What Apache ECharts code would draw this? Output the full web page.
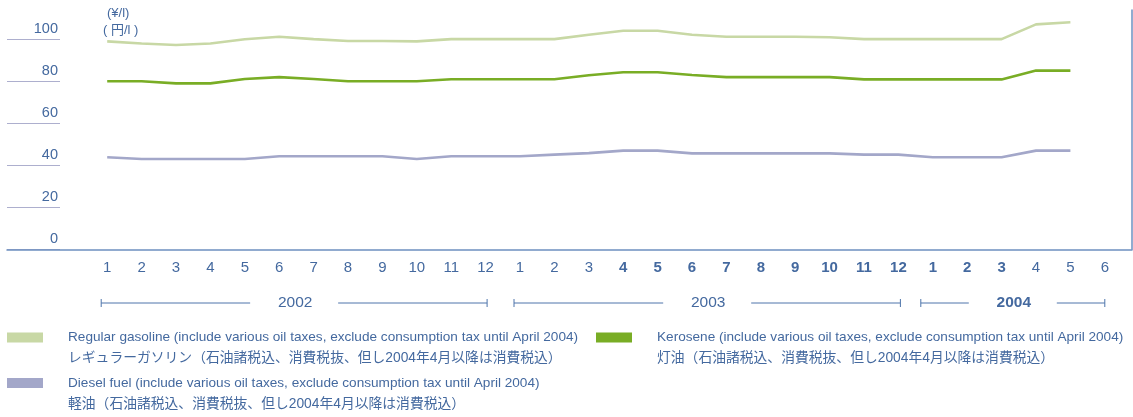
<!DOCTYPE html>
<html><head><meta charset="utf-8">
<script src="https://cdn.jsdelivr.net/npm/echarts@6/dist/echarts.min.js"></script>
<style>html,body{margin:0;padding:0;background:#fff}#c{width:1133px;height:417px}</style>
</head><body><div id="c"></div>
<script>
// ---- data ----
const months = ['1','2','3','4','5','6','7','8','9','10','11','12',
                '1','2','3','4','5','6','7','8','9','10','11','12',
                '1','2','3','4','5','6'];
const boldMonth = [0,0,0,0,0,0,0,0,0,0,0,0,
                   0,0,0,1,1,1,1,1,1,1,1,1,
                   1,1,1,0,0,0];
const years = ['2002','2003','2004'];
const yearBold = [false,false,true];
const yearFirst = [0,12,24];
const yearLast = [11,23,29];
const yTicks = [0,20,40,60,80,100];
const gasoline = [99,98,97.3,98,100,101.2,100.1,99.2,99.2,99,100.1,100.1,100.1,100.1,102.2,104.1,104.1,102.2,101.2,101.2,101.2,101,100.1,100.1,100.1,100.1,100.1,107.1,108.1];
const kerosene = [80,80,79,79,81.1,82,81.1,80,80,80,81,81,81,81,82.9,84.3,84.3,83,82,82,82,82,80.9,80.9,80.9,80.9,80.9,85.1,85.1];
const diesel = [43.8,43,43,43,43,44.3,44.3,44.3,44.3,43,44.3,44.3,44.3,45.1,45.8,47,47,45.7,45.7,45.7,45.7,45.7,45.1,45.1,43.8,43.8,43.8,47,47];
const seriesNames = ['Regular gasoline','Kerosene','Diesel fuel'];
const legendEn = {
  'Regular gasoline':'Regular gasoline (include various oil taxes, exclude consumption tax until April 2004)',
  'Kerosene':'Kerosene (include various oil taxes, exclude consumption tax until April 2004)',
  'Diesel fuel':'Diesel fuel (include various oil taxes, exclude consumption tax until April 2004)'
};
const legendJa = {
  'Regular gasoline':'レギュラーガソリン（石油諸税込、消費税抜、但し2004年4月以降は消費税込）',
  'Kerosene':'灯油（石油諸税込、消費税抜、但し2004年4月以降は消費税込）',
  'Diesel fuel':'軽油（石油諸税込、消費税抜、但し2004年4月以降は消費税込）'
};
const unitLines = ['(¥/l)','( 円/l )'];

// ---- styles ----
const FONT = "'Liberation Sans','Noto Sans CJK JP',sans-serif";
const TXT = '#44699f';
const colors = {'Regular gasoline':'#c8d8a5','Kerosene':'#79ad25','Diesel fuel':'#a3a7c9'};
const seriesData = {'Regular gasoline':gasoline,'Kerosene':kerosene,'Diesel fuel':diesel};

const chart = echarts.init(document.getElementById('c'), null, {renderer:'canvas'});
const option = {
  animation:false,
  backgroundColor:'#fff',
  textStyle:{fontFamily:FONT},
  grid:[
    {left:90, width:1032, top:18.3, height:231},
    {left:7, width:53, top:39.3, height:210},
    {left:7, right:1, top:10, height:239.3}
  ],
  xAxis:[
    {gridIndex:0, type:'category', data:months, boundaryGap:true,
     axisLine:{show:false}, axisTick:{show:false},
     axisLabel:{interval:0, margin:11, fontFamily:FONT,
       formatter:(v,i)=> boldMonth[i] ? '{b|'+v+'}' : '{n|'+v+'}',
       rich:{b:{fontSize:15,fontWeight:'bold',color:TXT,fontFamily:FONT},
             n:{fontSize:15,color:TXT,fontFamily:FONT}}}},
    {gridIndex:1, type:'value', show:false},
    {gridIndex:2, type:'value', position:'bottom', min:0, max:1,
     axisLine:{show:true, onZero:false, lineStyle:{color:'#6d90c0', width:1.5}},
     axisTick:{show:false}, axisLabel:{show:false}, splitLine:{show:false}}
  ],
  yAxis:[
    {gridIndex:0, type:'value', min:0, max:110, show:false},
    {gridIndex:1, type:'value', min:0, max:100, interval:20, position:'right',
     axisLine:{show:false}, axisTick:{show:false},
     axisLabel:{inside:true, margin:2, verticalAlign:'bottom', padding:[0,0,3,0],
       fontSize:14.5, color:TXT, fontFamily:FONT,
       formatter:v=> yTicks.includes(v) ? String(v) : ''},
     splitLine:{show:true, lineStyle:{color:'#adafce', width:1}}},
    {gridIndex:2, type:'value', position:'right', min:0, max:1,
     axisLine:{show:true, onZero:false, lineStyle:{color:'#6d90c0', width:1.5}},
     axisTick:{show:false}, axisLabel:{show:false}, splitLine:{show:false}}
  ],
  series: seriesNames.map(n=>({
    name:n, type:'line', xAxisIndex:0, yAxisIndex:0,
    data:seriesData[n], symbol:'none', smooth:false,
    lineStyle:{color:colors[n], width:2.6}, itemStyle:{color:colors[n]}
  }))
};
chart.setOption(option);

// ---- graphics derived from the axis ----
const px = k => chart.convertToPixel({xAxisIndex:0, yAxisIndex:0},[k,0])[0];
const g = [];
const by = 303, capH = 4, gap = 44;
const startOff = [-6,-6,-12], endOff = [1.5,2,0];
years.forEach((y,i)=>{
  const x1 = px(yearFirst[i]) + startOff[i];
  const x2 = px(yearLast[i]) + endOff[i];
  const cx = (x1+x2)/2;
  const ls = {stroke:'#4e75ab', lineWidth:1};
  g.push({type:'line', shape:{x1:x1,y1:by,x2:cx-gap,y2:by}, style:ls, silent:true});
  g.push({type:'line', shape:{x1:cx+gap,y1:by,x2:x2,y2:by}, style:ls, silent:true});
  g.push({type:'line', shape:{x1:x1,y1:by-capH,x2:x1,y2:by+capH}, style:ls, silent:true});
  g.push({type:'line', shape:{x1:x2,y1:by-capH,x2:x2,y2:by+capH}, style:ls, silent:true});
  g.push({type:'text', x:cx+1, y:by, style:{text:y, textAlign:'center', textVerticalAlign:'middle',
    font:(yearBold[i]?'bold ':'')+'15.5px '+FONT, fill:TXT}, silent:true});
});
// unit labels
g.push({type:'text', x:107, y:13.5, style:{text:unitLines[0], textVerticalAlign:'middle', font:'13px '+FONT, fill:TXT}});
g.push({type:'text', x:103, y:30.5, style:{text:unitLines[1], textVerticalAlign:'middle', font:'13px '+FONT, fill:TXT}});
// legend
const legPos = {'Regular gasoline':[7,337.5],'Kerosene':[596,337.5],'Diesel fuel':[7,383]};
seriesNames.forEach(n=>{
  const [lx,ly] = legPos[n];
  g.push({type:'rect', shape:{x:lx,y:ly-5,width:36,height:10}, style:{fill:colors[n]}});
  g.push({type:'text', x:lx+61, y:ly, style:{text:legendEn[n], textVerticalAlign:'middle', font:'13.6px '+FONT, fill:TXT}});
  g.push({type:'text', x:lx+61, y:ly+21, style:{text:legendJa[n], textVerticalAlign:'middle', font:'13.8px '+FONT, fill:TXT}});
});
chart.setOption({graphic:{elements:g}});
</script>
</body></html>
